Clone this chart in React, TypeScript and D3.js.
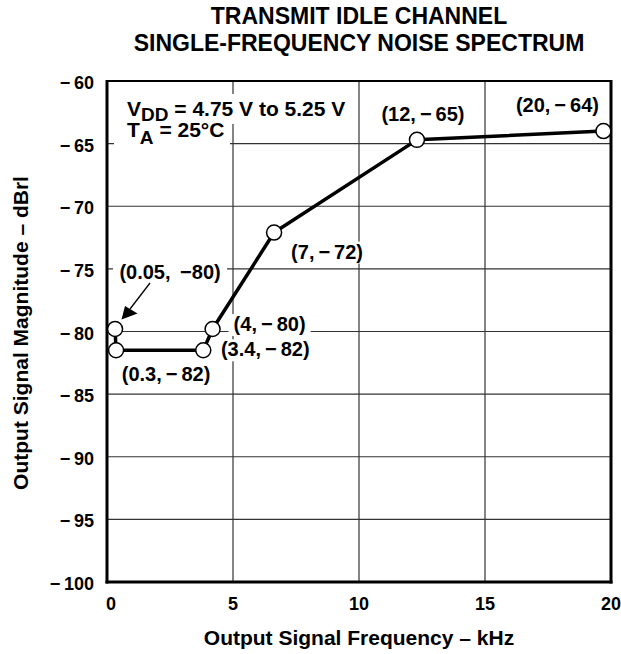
import React from "react";
import * as d3 from "d3";

// values (markers sit slightly off their labelled values)
const freqs = [0.32, 0.36, 3.82, 4.19, 6.63, 12.3, 19.7];
const levels = [-79.8, -81.5, -81.5, -79.8, -72.1, -64.7, -64.0];
const pointLabels = [
  "(0.05,\u2009 \u221280)",
  "(0.3,\u2009\u2212\u200982)",
  "(3.4,\u2009\u2212\u200982)",
  "(4,\u2009\u2212\u200980)",
  "(7,\u2009\u2212\u200972)",
  "(12,\u2009\u2212\u200965)",
  "(20,\u2009\u2212\u200964)",
];
const xTicks = [0, 5, 10, 15, 20];
const yTicks = [-60, -65, -70, -75, -80, -85, -90, -95, -100];

const width = 621;
const height = 654;
const left = 107;
const right = 611;
const top = 81;
const bottom = 582;
const font = "Liberation Sans, Arial, Helvetica, sans-serif";

// label placement relative to each marker (centre x, baseline y, box width)
const labelOffsets = [
  [55, -50, 108],
  [50, 31, 90],
  [62, 6, 92],
  [57, 2, 76],
  [53, 26, 72],
  [6, -19, 86],
  [-46, -19, 86],
];

const fmt = (v: number) => (v < 0 ? "\u2212\u2009" + Math.abs(v) : String(v));

const App = () => {
  const x = d3.scaleLinear().domain([0, 20]).range([left, right]);
  const y = d3.scaleLinear().domain([-100, -60]).range([bottom, top]);
  const pts = freqs.map((f, i) => [f, levels[i]] as [number, number]);
  const line = d3
    .line<[number, number]>()
    .x((d) => x(d[0]))
    .y((d) => y(d[1]));

  return (
    <svg width={width} height={height} style={{ position: "absolute", left: 0, top: 0 }} fontFamily={font} fontWeight="bold">
      <rect width={width} height={height} fill="#fff" />
      <text x={359} y={24} textAnchor="middle" fontSize={23}>TRANSMIT IDLE CHANNEL</text>
      <text x={359} y={51} textAnchor="middle" fontSize={23}>SINGLE-FREQUENCY NOISE SPECTRUM</text>

      {/* grid */}
      {xTicks.map((t) => (
        <line key={"gx" + t} x1={x(t)} x2={x(t)} y1={top} y2={bottom} stroke="#333" strokeWidth={1.2} />
      ))}
      {yTicks.map((t) => (
        <line key={"gy" + t} x1={left} x2={right} y1={y(t)} y2={y(t)} stroke="#333" strokeWidth={1.2} />
      ))}

      {/* conditions note */}
      <rect x={114} y={94} width={242} height={30} fill="#fff" />
      <rect x={114} y={124} width={116} height={24} fill="#fff" />
      <text x={127} y={116} fontSize={21}>
        V<tspan fontSize={19} dy={5}>DD</tspan>
        <tspan dy={-5}> = 4.75 V to 5.25 V</tspan>
      </text>
      <text x={127} y={137} fontSize={21}>
        T<tspan fontSize={19} dy={7}>A</tspan>
        <tspan dy={-7}> = 25°C</tspan>
      </text>

      {/* point labels */}
      {pts.map((p, i) => {
        const cx = x(p[0]) + labelOffsets[i][0];
        const by = y(p[1]) + labelOffsets[i][1];
        const w = labelOffsets[i][2];
        return (
          <g key={"l" + i}>
            <rect x={cx - w / 2 - 3} y={by - 17} width={w + 6} height={22} fill="#fff" />
            <text x={cx} y={by} textAnchor="middle" fontSize={20}>{pointLabels[i]}</text>
          </g>
        );
      })}

      {/* arrow to first point */}
      <line x1={150} y1={283} x2={130} y2={309} stroke="#000" strokeWidth={1.3} />
      <path d="M121.5,319.5 L125,306 L137.5,313.5 Z" fill="#000" />

      {/* frame */}
      <rect x={left} y={top} width={right - left} height={bottom - top} fill="none" stroke="#000" strokeWidth={2} />
      <line x1={left} x2={left} y1={top - 1} y2={bottom + 1.5} stroke="#000" strokeWidth={3} />
      <line x1={right} x2={right} y1={top - 1} y2={bottom + 1.5} stroke="#000" strokeWidth={3} />
      <line x1={left - 1.5} x2={right + 1.5} y1={bottom} y2={bottom} stroke="#000" strokeWidth={3} />

      {/* data */}
      <path d={line(pts) || ""} fill="none" stroke="#000" strokeWidth={3.5} strokeLinejoin="round" />
      {pts.map((p, i) => (
        <circle key={"c" + i} cx={x(p[0])} cy={y(p[1])} r={7.5} fill="#fff" stroke="#000" strokeWidth={1.5} />
      ))}

      {/* tick labels */}
      {yTicks.map((t) => (
        <text key={"ty" + t} x={94} y={y(t) + 8} textAnchor="end" fontSize={18}>{fmt(t)}</text>
      ))}
      {xTicks.map((t) => (
        <text key={"tx" + t} x={x(t) + (t === 0 ? 4 : 0)} y={610} textAnchor="middle" fontSize={18}>{t}</text>
      ))}

      <text x={359} y={645} textAnchor="middle" fontSize={21}>Output Signal Frequency – kHz</text>
      <text transform="translate(28,333) rotate(-90)" textAnchor="middle" fontSize={21}>Output Signal Magnitude – dBrl</text>
    </svg>
  );
};

export default App;
